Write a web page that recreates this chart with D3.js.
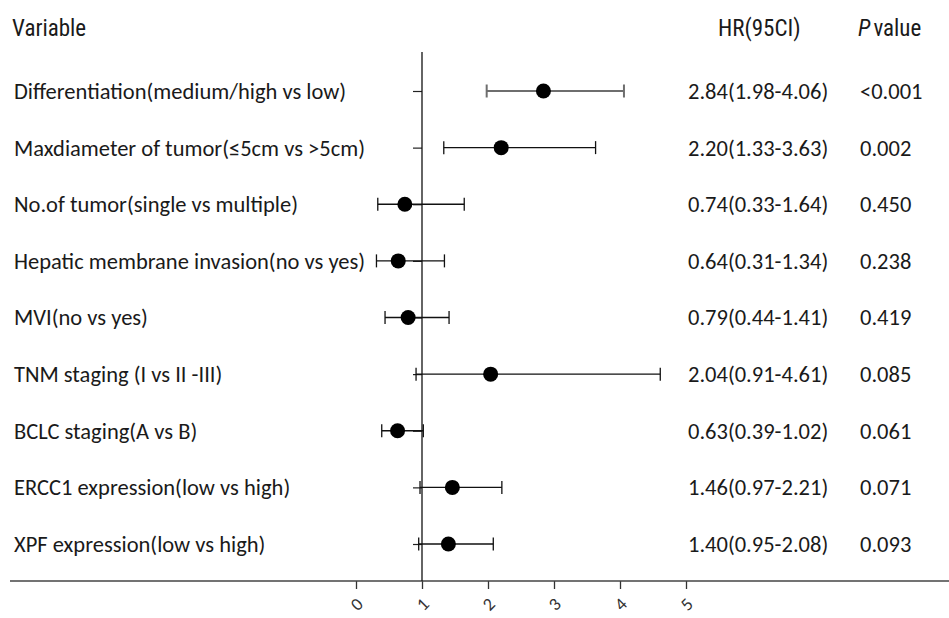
<!DOCTYPE html>
<html>
<head>
<meta charset="utf-8">
<script src="https://cdn.jsdelivr.net/npm/d3@7"></script>
<style>
  body { margin: 0; background: #fff; }
  .lbl { font-family: Carlito, Lato, "Open Sans", sans-serif; font-size: 22.5px; fill: #1a1a1a; }
  .hdr { font-family: "Liberation Sans Narrow", "Roboto Condensed", Roboto, sans-serif; font-size: 23px; fill: #1a1a1a; }
  .axis text { font-family: Carlito, Lato, sans-serif; font-size: 18px; fill: #333; }
</style>
</head>
<body>
<div id="chart"></div>
<script>
`use strict`;

let variables = [
    'Differentiation(medium/high vs low)',
    'Maxdiameter of tumor(\u22645cm vs >5cm)',
    'No.of tumor(single vs multiple)',
    'Hepatic membrane invasion(no vs yes)',
    'MVI(no vs yes)',
    'TNM staging (I vs II -III)',
    'BCLC staging(A vs B)',
    'ERCC1 expression(low vs high)',
    'XPF expression(low vs high)'
];
let hr    = [2.84, 2.20, 0.74, 0.64, 0.79, 2.04, 0.63, 1.46, 1.40];
let lower = [1.98, 1.33, 0.33, 0.31, 0.44, 0.91, 0.39, 0.97, 0.95];
let upper = [4.06, 3.63, 1.64, 1.34, 1.41, 4.61, 1.02, 2.21, 2.08];
let pValues = ['<0.001', '0.002', '0.450', '0.238', '0.419', '0.085', '0.061', '0.071', '0.093'];
let xTicks = [0, 1, 2, 3, 4, 5];

let w = 949, h = 618;
let svg = d3.select('#chart').append('svg').attr('width', w).attr('height', h);

let rows = variables.map(function(v, i){
    return {name: v, hr: hr[i], lo: lower[i], hi: upper[i], p: pValues[i]};
});

let x = d3.scaleLinear().domain([0, 5]).range([356, 686]);
let y = d3.scalePoint().domain(variables).range([91, 544]);
let axisY = 581;

// headers
svg.append('text').attr('class', 'hdr').attr('x', 12).attr('y', 36).text('Variable');
svg.append('text').attr('class', 'hdr').attr('x', 718).attr('y', 36).text('HR(95CI)');
let ph = svg.append('text').attr('class', 'hdr').attr('x', 858).attr('y', 36);
ph.append('tspan').style('font-style', 'italic').text('P');
ph.append('tspan').attr('dx', 3).text('value');

// horizontal axis
let xAxis = d3.axisBottom(x).tickValues(xTicks).tickSize(8).tickSizeOuter(0).tickFormat(d3.format('d'));
let gx = svg.append('g').attr('class', 'axis').attr('transform', 'translate(0,' + axisY + ')').call(xAxis);
gx.select('.domain').remove();
gx.selectAll('.tick line').attr('stroke', '#333').attr('stroke-width', 1.3);
gx.selectAll('.tick text')
    .attr('y', 0).attr('dy', '0.35em')
    .attr('text-anchor', 'middle')
    .attr('transform', 'translate(0,23) rotate(-45)');
svg.append('line')
    .attr('x1', 10).attr('x2', w).attr('y1', axisY).attr('y2', axisY)
    .attr('stroke', '#444').attr('stroke-width', 1.6);

// vertical reference line at HR = 1
let yAxis = d3.axisLeft(y).tickSize(9).tickSizeOuter(0).tickFormat('');
let gy = svg.append('g').attr('transform', 'translate(' + x(1) + ',0)').call(yAxis);
gy.select('.domain').remove();
gy.selectAll('.tick line').attr('stroke', '#222').attr('stroke-width', 1.2);
svg.append('line')
    .attr('x1', x(1)).attr('x2', x(1)).attr('y1', 52).attr('y2', axisY)
    .attr('stroke', '#111').attr('stroke-width', 1.3);

// error bars
let bars = svg.selectAll('.bar').data(rows).enter().append('g').classed('bar', true)
    .attr('stroke', function(d, i){ return i === 0 ? '#6e6e6e' : '#111'; })
    .attr('stroke-width', function(d, i){ return i === 0 ? 2 : 1.3; });
bars.append('line')
    .attr('x1', function(d){ return x(d.lo); })
    .attr('x2', function(d){ return x(d.hi); })
    .attr('y1', function(d){ return y(d.name); })
    .attr('y2', function(d){ return y(d.name); });
bars.append('line')
    .attr('x1', function(d){ return x(d.lo); })
    .attr('x2', function(d){ return x(d.lo); })
    .attr('y1', function(d){ return y(d.name) - 6.5; })
    .attr('y2', function(d){ return y(d.name) + 6.5; });
bars.append('line')
    .attr('x1', function(d){ return x(d.hi); })
    .attr('x2', function(d){ return x(d.hi); })
    .attr('y1', function(d){ return y(d.name) - 6.5; })
    .attr('y2', function(d){ return y(d.name) + 6.5; });

// points
svg.selectAll('.pt').data(rows).enter().append('circle').classed('pt', true)
    .attr('cx', function(d){ return x(d.hr); })
    .attr('cy', function(d){ return y(d.name); })
    .attr('r', 7.5)
    .attr('fill', '#000');

// text columns
svg.selectAll('.vname').data(rows).enter().append('text').attr('class', 'lbl vname')
    .attr('x', 14).attr('y', function(d){ return y(d.name); }).attr('dy', '0.35em')
    .text(function(d){ return d.name; });
svg.selectAll('.hrtxt').data(rows).enter().append('text').attr('class', 'lbl hrtxt')
    .attr('x', 688).attr('y', function(d){ return y(d.name); }).attr('dy', '0.35em')
    .text(function(d){ return d.hr.toFixed(2) + '(' + d.lo.toFixed(2) + '-' + d.hi.toFixed(2) + ')'; });
svg.selectAll('.ptxt').data(rows).enter().append('text').attr('class', 'lbl ptxt')
    .attr('x', 860).attr('y', function(d){ return y(d.name); }).attr('dy', '0.35em')
    .text(function(d){ return d.p; });
</script>
</body>
</html>
